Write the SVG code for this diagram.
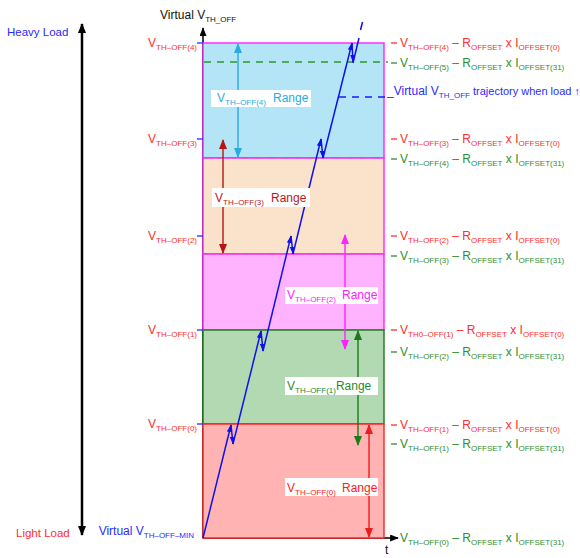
<svg xmlns="http://www.w3.org/2000/svg" width="580" height="558" viewBox="0 0 580 558">
<defs>
<style>
text{font-family:"Liberation Sans",Arial,sans-serif;font-size:12px}
.s{font-size:8px}
.red{fill:#ff2d2d}
.grn{fill:#2f8f2f}
.blu{fill:#2a2aff}
.blk{fill:#111}
.tick{stroke-width:1.3}
.ra{stroke-width:1.4;fill:none}
.traj{stroke:#1010ee;stroke-width:1.5;fill:none}
</style>
<marker id="axh" viewBox="0 0 10 8" refX="9" refY="4" markerWidth="9" markerHeight="7" markerUnits="userSpaceOnUse" orient="auto-start-reverse"><path d="M0,0 L10,4 L0,8 z" fill="#000"/></marker>
<marker id="bigh" viewBox="0 0 10 8" refX="9" refY="4" markerWidth="10" markerHeight="9" markerUnits="userSpaceOnUse" orient="auto-start-reverse"><path d="M0,0 L10,4 L0,8 z" fill="#000"/></marker>
<marker id="hc" viewBox="0 0 10 8" refX="9" refY="4" markerWidth="10" markerHeight="8" markerUnits="userSpaceOnUse" orient="auto-start-reverse"><path d="M0,0 L10,4 L0,8 z" fill="#29abe2"/></marker>
<marker id="hd" viewBox="0 0 10 8" refX="9" refY="4" markerWidth="10" markerHeight="8" markerUnits="userSpaceOnUse" orient="auto-start-reverse"><path d="M0,0 L10,4 L0,8 z" fill="#b81414"/></marker>
<marker id="hm" viewBox="0 0 10 8" refX="9" refY="4" markerWidth="10" markerHeight="8" markerUnits="userSpaceOnUse" orient="auto-start-reverse"><path d="M0,0 L10,4 L0,8 z" fill="#ff22ff"/></marker>
<marker id="hg" viewBox="0 0 10 8" refX="9" refY="4" markerWidth="10" markerHeight="8" markerUnits="userSpaceOnUse" orient="auto-start-reverse"><path d="M0,0 L10,4 L0,8 z" fill="#1a7a1a"/></marker>
<marker id="hr" viewBox="0 0 10 8" refX="9" refY="4" markerWidth="10" markerHeight="8" markerUnits="userSpaceOnUse" orient="auto-start-reverse"><path d="M0,0 L10,4 L0,8 z" fill="#ee1c1c"/></marker>
<marker id="ht" viewBox="0 0 10 6" refX="9" refY="3" markerWidth="8" markerHeight="5" markerUnits="userSpaceOnUse" orient="auto"><path d="M0,0 L10,3 L0,6 z" fill="#1010ee"/></marker>
</defs>
<rect width="580" height="558" fill="#fff"/>

<!-- axes -->
<g id="axes" stroke="#000" fill="none">
<line x1="82" y1="24" x2="82" y2="535" stroke-width="2.5" marker-start="url(#bigh)" marker-end="url(#bigh)"/>
<line x1="203" y1="538" x2="203" y2="28" stroke-width="1.5" marker-end="url(#axh)"/>
<line x1="203" y1="538" x2="398" y2="538" stroke-width="1.5" marker-end="url(#axh)"/>
</g>

<!-- bands -->
<g id="band4"><rect x="203" y="43" width="181" height="115" fill="#b3e5f7" stroke="#ff22ff" stroke-width="1.4"/></g>
<g id="band3"><rect x="203" y="158" width="181" height="96" fill="#fbe3cb" stroke="#ff22ff" stroke-width="1.4"/></g>
<g id="band2"><rect x="203" y="254" width="181" height="76" fill="#ffb3ff" stroke="#ff22ff" stroke-width="1.4"/></g>
<g id="band1"><rect x="203" y="330" width="181" height="94" fill="#b3d9b3" stroke="#1a7a1a" stroke-width="1.4"/></g>
<g id="band0"><rect x="203" y="424" width="181" height="114" fill="#ffb3b3" stroke="#ff2020" stroke-width="1.4"/></g>

<!-- level lines -->
<g id="levels" fill="none">
<line x1="204" y1="62" x2="388" y2="62" stroke="#2a9a2a" stroke-width="1.3" stroke-dasharray="7 6"/>
<line x1="204" y1="158" x2="384" y2="158" stroke="#a06aa0" stroke-width="0.8" stroke-dasharray="6 7" opacity="0.6"/>
<line x1="204" y1="254" x2="384" y2="254" stroke="#a06aa0" stroke-width="0.8" stroke-dasharray="6 7" opacity="0.6"/>
<line x1="339" y1="97" x2="386" y2="97" stroke="#1a1aff" stroke-width="1.3" stroke-dasharray="7 6"/>
<g stroke="#2a2aff" class="tick">
<line x1="197" y1="43" x2="203" y2="43"/><line x1="197" y1="139" x2="203" y2="139"/><line x1="197" y1="236" x2="203" y2="236"/><line x1="197" y1="330" x2="203" y2="330"/><line x1="197" y1="424" x2="203" y2="424"/>
</g>
<g stroke="#ff2d2d" class="tick">
<line x1="391" y1="43" x2="397" y2="43"/><line x1="391" y1="139" x2="397" y2="139"/><line x1="391" y1="236" x2="397" y2="236"/><line x1="391" y1="330" x2="397" y2="330"/><line x1="391" y1="425" x2="397" y2="425"/>
</g>
<g stroke="#2f8f2f" class="tick">
<line x1="391" y1="63" x2="397" y2="63"/><line x1="391" y1="159" x2="397" y2="159"/><line x1="391" y1="256" x2="397" y2="256"/><line x1="391" y1="352" x2="397" y2="352"/><line x1="391" y1="444" x2="397" y2="444"/>
</g>
</g>

<!-- connectors -->
<g id="connectors">
<line class="ra" x1="238" y1="44" x2="238" y2="157" stroke="#29abe2" marker-start="url(#hc)" marker-end="url(#hc)"/>
<line class="ra" x1="223" y1="253" x2="223" y2="140" stroke="#b81414" marker-start="url(#hd)" marker-end="url(#hd)"/>
<line class="ra" x1="345" y1="235" x2="345" y2="349" stroke="#ff22ff" marker-start="url(#hm)" marker-end="url(#hm)"/>
<line class="ra" x1="358" y1="331" x2="358" y2="445" stroke="#1a7a1a" marker-start="url(#hg)" marker-end="url(#hg)"/>
<line class="ra" x1="369" y1="425" x2="369" y2="537" stroke="#ee1c1c" marker-start="url(#hr)" marker-end="url(#hr)"/>
<g id="trajectory" class="traj">
<line x1="203" y1="538" x2="231" y2="425" marker-end="url(#ht)"/>
<line x1="231" y1="425" x2="233" y2="444" marker-end="url(#ht)"/>
<line x1="233" y1="444" x2="261" y2="331" marker-end="url(#ht)"/>
<line x1="261" y1="331" x2="263" y2="351" marker-end="url(#ht)"/>
<line x1="263" y1="351" x2="291" y2="236" marker-end="url(#ht)"/>
<line x1="291" y1="236" x2="293" y2="254" marker-end="url(#ht)"/>
<line x1="293" y1="254" x2="321" y2="139" marker-end="url(#ht)"/>
<line x1="321" y1="139" x2="323" y2="158" marker-end="url(#ht)"/>
<line x1="323" y1="158" x2="352" y2="43" marker-end="url(#ht)"/>
<line x1="352" y1="43" x2="353" y2="62" marker-end="url(#ht)"/>
<line x1="353" y1="63" x2="359" y2="38"/>
<line x1="360.5" y1="30" x2="362.5" y2="22"/>
</g>
</g>

<!-- range labels -->
<g id="range4"><rect x="211" y="90" width="100" height="17" fill="#fff"/><text x="217" y="102" fill="#29abe2">V<tspan class="s" dy="3">TH–OFF(4)</tspan><tspan x="273" dy="-3">Range</tspan></text></g>
<g id="range3"><rect x="212" y="188" width="98" height="19" fill="#fff"/><text x="215" y="202" fill="#c0181a">V<tspan class="s" dy="3">TH–OFF(3)</tspan><tspan x="271" dy="-3">Range</tspan></text></g>
<g id="range2"><rect x="285" y="287" width="93" height="17" fill="#fff"/><text x="287" y="299" fill="#ff22ff">V<tspan class="s" dy="3">TH–OFF(2)</tspan><tspan x="342" dy="-3">Range</tspan></text></g>
<g id="range1"><rect x="285" y="377" width="93" height="18" fill="#fff"/><text x="287" y="390" fill="#2a8a2a">V<tspan class="s" dy="3">TH–OFF(1)</tspan><tspan dy="-3">Range</tspan></text></g>
<g id="range0"><rect x="285" y="478" width="93" height="18" fill="#fff"/><text x="287" y="492" fill="#ff2020">V<tspan class="s" dy="3">TH–OFF(0)</tspan><tspan x="342" dy="-3">Range</tspan></text></g>

<!-- left texts -->
<g id="left-labels">
<text x="7" y="36" class="blu" style="font-size:11.5px">Heavy Load</text>
<text x="16" y="537" class="red" style="font-size:11.5px">Light Load</text>
<text x="160" y="19" class="blk">Virtual V<tspan class="s" dy="3">TH_OFF</tspan></text>
<text x="197" y="47" class="red" text-anchor="end">V<tspan class="s" dy="3">TH–OFF(4)</tspan></text>
<text x="197" y="143" class="red" text-anchor="end">V<tspan class="s" dy="3">TH–OFF(3)</tspan></text>
<text x="197" y="240" class="red" text-anchor="end">V<tspan class="s" dy="3">TH–OFF(2)</tspan></text>
<text x="197" y="334" class="red" text-anchor="end">V<tspan class="s" dy="3">TH–OFF(1)</tspan></text>
<text x="197" y="428" class="red" text-anchor="end">V<tspan class="s" dy="3">TH–OFF(0)</tspan></text>
<text x="194" y="535" class="blu" text-anchor="end">Virtual V<tspan class="s" dy="3">TH–OFF–MIN</tspan></text>
<text x="385" y="554" class="blk">t</text>
</g>

<!-- right texts -->
<g id="right-labels">
<text x="387" y="95" class="blu">_Virtual V<tspan class="s" dy="3">TH_OFF</tspan><tspan dy="-3" style="font-size:11px">  trajectory when load ↑</tspan></text>
<text x="400" y="47" class="red">V<tspan class="s" dy="3">TH–OFF(4)</tspan><tspan dy="-3"> – R</tspan><tspan class="s" dy="3">OFFSET</tspan><tspan dy="-3"> x I</tspan><tspan class="s" dy="3">OFFSET(0)</tspan></text>
<text x="400" y="67" class="grn">V<tspan class="s" dy="3">TH–OFF(5)</tspan><tspan dy="-3"> – R</tspan><tspan class="s" dy="3">OFFSET</tspan><tspan dy="-3"> x I</tspan><tspan class="s" dy="3">OFFSET(31)</tspan></text>
<text x="400" y="143" class="red">V<tspan class="s" dy="3">TH–OFF(3)</tspan><tspan dy="-3"> – R</tspan><tspan class="s" dy="3">OFFSET</tspan><tspan dy="-3"> x I</tspan><tspan class="s" dy="3">OFFSET(0)</tspan></text>
<text x="400" y="163" class="grn">V<tspan class="s" dy="3">TH–OFF(4)</tspan><tspan dy="-3"> – R</tspan><tspan class="s" dy="3">OFFSET</tspan><tspan dy="-3"> x I</tspan><tspan class="s" dy="3">OFFSET(31)</tspan></text>
<text x="400" y="240" class="red">V<tspan class="s" dy="3">TH–OFF(2)</tspan><tspan dy="-3"> – R</tspan><tspan class="s" dy="3">OFFSET</tspan><tspan dy="-3"> x I</tspan><tspan class="s" dy="3">OFFSET(0)</tspan></text>
<text x="400" y="260" class="grn">V<tspan class="s" dy="3">TH–OFF(3)</tspan><tspan dy="-3"> – R</tspan><tspan class="s" dy="3">OFFSET</tspan><tspan dy="-3"> x I</tspan><tspan class="s" dy="3">OFFSET(31)</tspan></text>
<text x="400" y="334" class="red">V<tspan class="s" dy="3">TH0–OFF(1)</tspan><tspan dy="-3"> – R</tspan><tspan class="s" dy="3">OFFSET</tspan><tspan dy="-3"> x I</tspan><tspan class="s" dy="3">OFFSET(0)</tspan></text>
<text x="400" y="356" class="grn">V<tspan class="s" dy="3">TH–OFF(2)</tspan><tspan dy="-3"> – R</tspan><tspan class="s" dy="3">OFFSET</tspan><tspan dy="-3"> x I</tspan><tspan class="s" dy="3">OFFSET(31)</tspan></text>
<text x="400" y="429" class="red">V<tspan class="s" dy="3">TH–OFF(1)</tspan><tspan dy="-3"> – R</tspan><tspan class="s" dy="3">OFFSET</tspan><tspan dy="-3"> x I</tspan><tspan class="s" dy="3">OFFSET(0)</tspan></text>
<text x="400" y="448" class="grn">V<tspan class="s" dy="3">TH–OFF(1)</tspan><tspan dy="-3"> – R</tspan><tspan class="s" dy="3">OFFSET</tspan><tspan dy="-3"> x I</tspan><tspan class="s" dy="3">OFFSET(31)</tspan></text>
<text x="400" y="542" class="grn">V<tspan class="s" dy="3">TH–OFF(0)</tspan><tspan dy="-3"> – R</tspan><tspan class="s" dy="3">OFFSET</tspan><tspan dy="-3"> x I</tspan><tspan class="s" dy="3">OFFSET(31)</tspan></text>
</g>
</svg>
